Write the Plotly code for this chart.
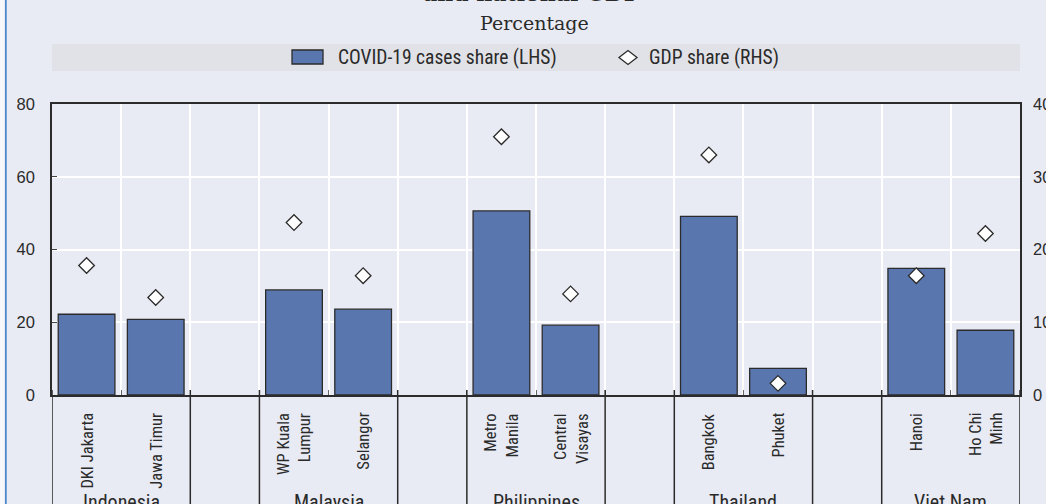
import plotly.graph_objects as go

# ---------------- data ----------------
countries = ["Indonesia", "Malaysia", "Philippines", "Thailand", "Viet Nam"]
region_country = ["Indonesia", "Indonesia", "Malaysia", "Malaysia", "Philippines",
                  "Philippines", "Thailand", "Thailand", "Viet Nam", "Viet Nam"]
regions = ["DKI Jakarta", "Jawa Timur", "WP Kuala Lumpur", "Selangor", "Metro Manila",
           "Central Visayas", "Bangkok", "Phuket", "Hanoi", "Ho Chi Minh"]
region_labels = ["DKI Jakarta", "Jawa Timur", "WP Kuala<br>Lumpur", "Selangor", "Metro<br>Manila",
                 "Central<br>Visayas", "Bangkok", "Phuket", "Hanoi", "Ho Chi<br>Minh"]
covid_share = [22.2, 20.8, 28.9, 23.6, 50.6, 19.2, 49.1, 7.3, 34.8, 17.8]   # LHS
gdp_share = [17.8, 13.4, 23.7, 16.4, 35.5, 13.9, 33.0, 1.6, 16.4, 22.2]     # RHS
left_ticks = [0, 20, 40, 60, 80]
right_ticks = [0, 10, 20, 30, 40]

title_text = "and national GDP"
subtitle_text = "Percentage"
legend_names = ["COVID-19 cases share (LHS)", "GDP share (RHS)"]

# ---------------- layout constants (screen pixels) ----------------
FW, FH = 1046, 504
L, R, T, B = 52, 1020, 104, 395   # plot area
BG = "#E9EBF4"
BAND = "#E1E2E7"
BAR = "#5A76AE"
EDGE = "#2B2B2B"
TXT = "#2A2A2A"
SANS = "Liberation Sans, Arial, sans-serif"
NARROW = "Liberation Sans Narrow, Arial Narrow, Roboto Condensed, Liberation Sans, sans-serif"
SERIF = "DejaVu Serif, serif"


def px(x):
    return (x - L) / (R - L)


def py(y):
    return (B - y) / (B - T)


# slot order: regions of each country followed by an empty gap slot
slots = []
group_bounds = []
for i, c in enumerate(countries):
    members = [r for r, rc in zip(regions, region_country) if rc == c]
    start = len(slots)
    slots.extend(members)
    group_bounds.append((start, len(slots) - 1))
    if i < len(countries) - 1:
        slots.append("gap%d" % i)

fig = go.Figure()
fig.add_trace(go.Bar(
    x=regions, y=covid_share, name=legend_names[0],
    marker=dict(color=BAR, line=dict(color=EDGE, width=1.3)),
    showlegend=False, yaxis="y",
))
fig.add_trace(go.Scatter(
    x=regions, y=gdp_share, name=legend_names[1], mode="markers",
    marker=dict(symbol="diamond", size=12, color="white", line=dict(color=EDGE, width=1.3)),
    showlegend=False, yaxis="y2",
))

shapes = []
annotations = []

# white strip and blue frame line on the left
shapes.append(dict(type="rect", xref="paper", yref="paper", x0=px(-2), x1=px(5),
                   y0=py(FH + 5), y1=py(-5), fillcolor="#F7F8FB", line=dict(width=0), layer="below"))
shapes.append(dict(type="line", xref="paper", yref="paper", x0=px(5.8), x1=px(5.8),
                   y0=py(FH + 5), y1=py(-5), line=dict(color="#4A86C8", width=1.8)))
# legend band
shapes.append(dict(type="rect", xref="paper", yref="paper", x0=0, x1=1,
                   y0=py(71), y1=py(44), fillcolor=BAND, line=dict(width=0), layer="below"))
# legend symbols
shapes.append(dict(type="rect", xref="paper", yref="paper", x0=px(292), x1=px(323),
                   y0=py(64), y1=py(50), fillcolor=BAR, line=dict(color=EDGE, width=1.3)))
cx, cy, dx, dy = px(628), py(57.5), 9 / (R - L), 7 / (B - T)
shapes.append(dict(type="path", xref="paper", yref="paper",
                   path="M %f,%f L %f,%f L %f,%f L %f,%f Z" % (cx - dx, cy, cx, cy + dy, cx + dx, cy, cx, cy - dy),
                   fillcolor="white", line=dict(color=EDGE, width=1.3)))
annotations.append(dict(text=legend_names[0], xref="paper", yref="paper", x=px(336), y=py(57.5),
                        xanchor="left", yanchor="middle", showarrow=False,
                        font=dict(family=NARROW, size=19.5, color=TXT)))
annotations.append(dict(text=legend_names[1], xref="paper", yref="paper", x=px(647), y=py(57.5),
                        xanchor="left", yanchor="middle", showarrow=False,
                        font=dict(family=NARROW, size=19.5, color=TXT)))

# title and subtitle
annotations.append(dict(text="<b>%s</b>" % title_text, xref="paper", yref="paper", x=px(531), y=py(-7),
                        xanchor="center", yanchor="middle", showarrow=False,
                        font=dict(family=SERIF, size=22, color=TXT)))
annotations.append(dict(text=subtitle_text, xref="paper", yref="paper", x=px(534), y=py(23),
                        xanchor="center", yanchor="middle", showarrow=False,
                        font=dict(family=SERIF, size=19, color=TXT)))

# group divider lines below axis
for s, e in group_bounds:
    for xb in (s - 0.5, e + 0.5):
        shapes.append(dict(type="line", xref="x", yref="paper", x0=xb, x1=xb,
                           y0=py(390), y1=py(FH + 10), line=dict(color=EDGE, width=1.5)))

# region labels (rotated) and country labels
for r, lab in zip(regions, region_labels):
    annotations.append(dict(text=lab, x=r, xref="x", yref="paper", y=py(411),
                            xanchor="center", yanchor="top", textangle=-90, align="right",
                            showarrow=False, font=dict(family=NARROW, size=16.5, color=TXT)))
for (s, e), c in zip(group_bounds, countries):
    annotations.append(dict(text=c, x=(s + e) / 2, xref="x", yref="paper", y=py(487.5),
                            xanchor="center", yanchor="top", showarrow=False,
                            font=dict(family=NARROW, size=20, color=TXT)))

fig.update_layout(
    width=FW, height=FH, autosize=False,
    margin=dict(l=L, r=FW - R, t=T, b=FH - B, pad=0, autoexpand=False),
    paper_bgcolor=BG, plot_bgcolor=BG,
    bargap=0.18,
    shapes=shapes, annotations=annotations,
    xaxis=dict(type="category", categoryorder="array", categoryarray=slots, automargin=False,
               range=[-0.5, len(slots) - 0.5], showticklabels=False,
               showgrid=True, gridcolor="white", gridwidth=1.5,
               tickson="boundaries", ticks="inside", ticklen=5, tickcolor="#666", tickwidth=1,
               showline=True, linecolor=EDGE, linewidth=1.5, mirror=True, zeroline=False),
    yaxis=dict(range=[0, 80], tickvals=left_ticks, showgrid=True, gridcolor="white", gridwidth=1.5,
               showline=True, linecolor=EDGE, linewidth=1.5, ticks="inside", ticklen=5,
               tickcolor="#444", zeroline=False, ticklabelstandoff=12, automargin=False,
               tickfont=dict(family=SANS, size=16.5, color=TXT)),
    yaxis2=dict(range=[0, 40], tickvals=right_ticks, overlaying="y", side="right", showgrid=False,
                showline=True, linecolor=EDGE, linewidth=1.5, ticks="", zeroline=False,
                ticklabelstandoff=8, automargin=False,
                tickfont=dict(family=SANS, size=16.5, color=TXT)),
)

# place the figure flush with the page corner (no default body margin), no mode bar
fig.write_html("out.html", config={"displayModeBar": False},
               post_script="document.body.style.margin='0';document.body.style.background='%s';" % BG)
